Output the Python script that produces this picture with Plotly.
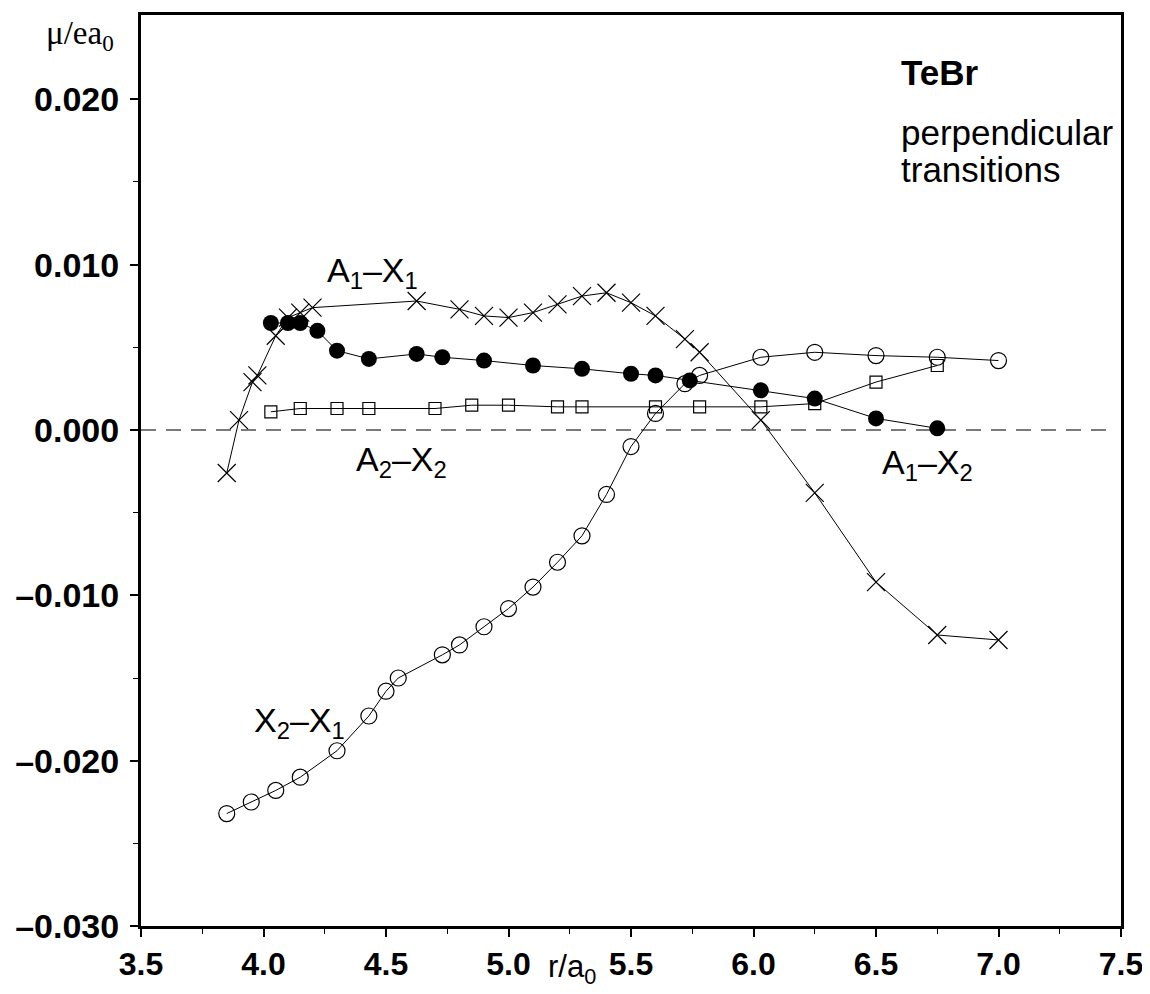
import plotly.graph_objects as go

# A1-X1 (crosses)
a1x1_r = [3.85, 3.90, 3.955, 3.975, 4.05, 4.10, 4.15, 4.20, 4.625, 4.80, 4.90, 5.00, 5.10, 5.20, 5.30, 5.40, 5.50, 5.60, 5.72, 5.78, 6.03, 6.25, 6.50, 6.75, 7.00]
a1x1_mu = [-0.0026, 0.0006, 0.0029, 0.0033, 0.0057, 0.0068, 0.0071, 0.0074, 0.0078, 0.0073, 0.0069, 0.0068, 0.0071, 0.0076, 0.0081, 0.0083, 0.0077, 0.0069, 0.0055, 0.0047, 0.0006, -0.0038, -0.0092, -0.0124, -0.0127]

# A1-X2 (filled circles)
a1x2_r = [4.03, 4.10, 4.15, 4.22, 4.30, 4.43, 4.625, 4.73, 4.90, 5.10, 5.30, 5.50, 5.60, 5.74, 6.03, 6.25, 6.50, 6.75]
a1x2_mu = [0.00647, 0.00647, 0.00647, 0.0060, 0.0048, 0.0043, 0.0046, 0.0044, 0.0042, 0.0039, 0.0037, 0.0034, 0.0033, 0.0030, 0.0024, 0.0019, 0.0007, 0.0001]

# A2-X2 (open squares)
a2x2_r = [4.03, 4.15, 4.30, 4.43, 4.70, 4.85, 5.00, 5.20, 5.30, 5.60, 5.78, 6.03, 6.25, 6.50, 6.75]
a2x2_mu = [0.0011, 0.0013, 0.0013, 0.0013, 0.0013, 0.0015, 0.0015, 0.0014, 0.0014, 0.0014, 0.0014, 0.0014, 0.0016, 0.0029, 0.0039]

# X2-X1 (open circles)
x2x1_r = [3.85, 3.95, 4.05, 4.15, 4.30, 4.43, 4.50, 4.55, 4.73, 4.80, 4.90, 5.00, 5.10, 5.20, 5.30, 5.40, 5.50, 5.60, 5.72, 5.78, 6.03, 6.25, 6.50, 6.75, 7.00]
x2x1_mu = [-0.0232, -0.0225, -0.0218, -0.0210, -0.0194, -0.0173, -0.0158, -0.0150, -0.0136, -0.0130, -0.0119, -0.0108, -0.0095, -0.0080, -0.0064, -0.0039, -0.0010, 0.0010, 0.0028, 0.0033, 0.0044, 0.0047, 0.0045, 0.0044, 0.0042]

x_ticks = [3.5, 4.0, 4.5, 5.0, 5.5, 6.0, 6.5, 7.0, 7.5]
x_ticktext = ["3.5", "4.0", "4.5", "5.0", "5.5", "6.0", "6.5", "7.0", "7.5"]
y_ticks = [-0.03, -0.02, -0.01, 0.0, 0.01, 0.02]
y_ticktext = ["\u20130.030", "\u20130.020", "\u20130.010", "0.000", "0.010", "0.020"]

fig = go.Figure()

line = dict(color="black", width=1)

fig.add_trace(go.Scatter(x=x2x1_r, y=x2x1_mu, mode="lines+markers", line=line,
                         marker=dict(symbol="circle-open", size=16, color="black", line=dict(width=1.2))))
fig.add_trace(go.Scatter(x=a2x2_r, y=a2x2_mu, mode="lines+markers", line=line,
                         marker=dict(symbol="square-open", size=12, color="black", line=dict(width=1.2))))
fig.add_trace(go.Scatter(x=a1x1_r, y=a1x1_mu, mode="lines+markers", line=line,
                         marker=dict(symbol="x-thin-open", size=18, color="black", line=dict(width=1.2, color="black"))))
fig.add_trace(go.Scatter(x=a1x2_r, y=a1x2_mu, mode="lines+markers", line=line,
                         marker=dict(symbol="circle", size=16, color="black")))

fig.add_shape(type="line", x0=3.5, x1=7.47, y0=0, y1=0, xref="x", yref="y",
              line=dict(color="#7a7a7a", width=2, dash="15px,10px"), layer="below")

sans = "Liberation Sans, Arial"
lab_font = dict(family=sans, size=34, color="black")
for (lx, ly, txt) in [(4.25, 0.0095, "A<sub>1</sub>\u2013X<sub>1</sub>"),
                      (4.37, -0.0019, "A<sub>2</sub>\u2013X<sub>2</sub>"),
                      (6.515, -0.0021, "A<sub>1</sub>\u2013X<sub>2</sub>"),
                      (3.955, -0.0177, "X<sub>2</sub>\u2013X<sub>1</sub>")]:
    fig.add_annotation(x=lx, y=ly, text=txt, showarrow=False, xanchor="left", yanchor="middle", font=lab_font)

fig.add_annotation(x=6.595, y=0.0216, text="<b>TeBr</b>", showarrow=False,
                   xanchor="left", yanchor="middle", font=dict(family=sans, size=35, color="black"))
fig.add_annotation(x=6.595, y=0.0180, text="perpendicular", showarrow=False,
                   xanchor="left", yanchor="middle", font=dict(family=sans, size=35, color="black"))
fig.add_annotation(x=6.595, y=0.01575, text="transitions", showarrow=False,
                   xanchor="left", yanchor="middle", font=dict(family=sans, size=35, color="black"))

fig.add_annotation(xref="paper", yref="paper", x=-0.062, y=0.977, text="\u03bc/ea<sub>0</sub>", showarrow=False,
                   xanchor="center", yanchor="middle", font=dict(family="Liberation Serif, Times New Roman", size=33, color="black"))
fig.add_annotation(xref="paper", yref="paper", x=0.44, y=-0.047, text="r/a<sub>0</sub>", showarrow=False,
                   xanchor="center", yanchor="middle", font=dict(family=sans, size=31, color="black"))

# page body adds ~8px offset; compensate so the plot frame lands where the reference has it
fig.update_layout(
    width=1142, height=986,
    margin=dict(l=133, r=29, t=7, b=68),
    plot_bgcolor="white", paper_bgcolor="white",
    showlegend=False,
)
fig.update_xaxes(range=[3.5, 7.5], tickvals=x_ticks, ticktext=x_ticktext, automargin=False,
                 showgrid=False, zeroline=False, showline=True, linecolor="black", linewidth=3,
                 mirror=True, ticks="outside", ticklen=8, tickwidth=2, tickcolor="black",
                 tickfont=dict(family=sans, size=32, color="black", weight="bold"),
                 minor=dict(tickvals=[3.75, 4.25, 4.75, 5.25, 5.75, 6.25, 6.75, 7.25], ticks="outside",
                            ticklen=5, tickwidth=1, tickcolor="black"))
fig.update_yaxes(range=[-0.03, 0.0251], tickvals=y_ticks, ticktext=y_ticktext, automargin=False,
                 showgrid=False, zeroline=False, showline=True, linecolor="black", linewidth=3,
                 mirror=True, ticks="outside", ticklen=8, tickwidth=2, tickcolor="black",
                 ticklabelstandoff=4,
                 tickfont=dict(family=sans, size=34, color="black", weight="bold"),
                 minor=dict(tickvals=[-0.025, -0.015, -0.005, 0.005, 0.015], ticks="outside",
                            ticklen=5, tickwidth=1, tickcolor="black"))

fig.write_html("out.html")
